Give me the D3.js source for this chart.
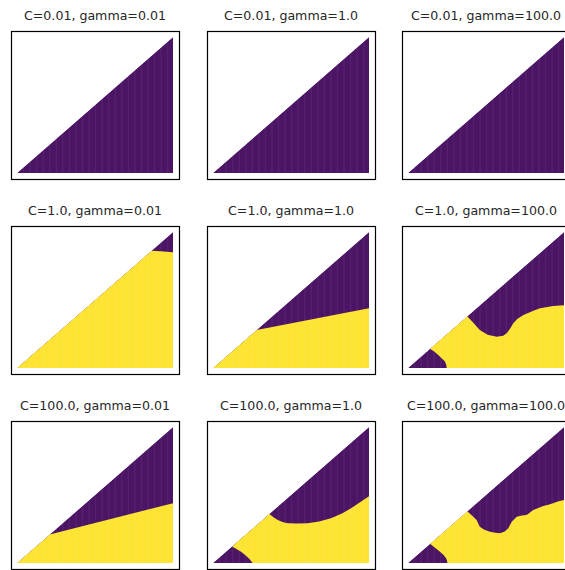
<!DOCTYPE html>
<html>
<head>
<meta charset="utf-8">
<script src="https://cdn.jsdelivr.net/npm/d3@7"></script>
<style>
  html, body { margin: 0; padding: 0; background: #fff; overflow: hidden; }
  svg { display: block; }
</style>
</head>
<body>
<div id="chart"></div>
<script>
// grid parameters (rows = C, columns = gamma)
const cLabels = ['0.01', '1.0', '100.0'];
const gammaLabels = ['0.01', '1.0', '100.0'];

// main decision boundary per panel, [x, y] in data units, from the diagonal to x = 1
// null means the whole triangle is one class (purple)
const boundaryRow1 = [null, null, null];
const boundaryRow2 = [
  [[0.863, 0.863], [0.92, 0.858], [1.0, 0.852]],
  [[0.28, 0.28], [1.0, 0.44]],
  [[0.38, 0.38], [0.42, 0.33], [0.46, 0.28], [0.51, 0.245], [0.569, 0.23], [0.61, 0.238],
   [0.633, 0.255], [0.655, 0.29], [0.675, 0.329], [0.70, 0.36], [0.74, 0.39], [0.80, 0.42],
   [0.846, 0.439], [0.93, 0.456], [1.0, 0.461]]
];
const boundaryRow3 = [
  [[0.21, 0.21], [1.0, 0.44]],
  [[0.361, 0.361], [0.39, 0.335], [0.415, 0.316], [0.45, 0.3], [0.479, 0.292], [0.54, 0.29],
   [0.607, 0.292], [0.68, 0.305], [0.756, 0.329], [0.83, 0.365], [0.885, 0.402], [0.94, 0.445],
   [1.0, 0.49]],
  [[0.38, 0.38], [0.41, 0.35], [0.44, 0.316], [0.46, 0.267], [0.49, 0.245], [0.526, 0.23],
   [0.56, 0.222], [0.59, 0.218], [0.62, 0.232], [0.643, 0.255], [0.665, 0.304], [0.697, 0.34],
   [0.73, 0.35], [0.76, 0.353], [0.78, 0.37], [0.803, 0.39], [0.835, 0.405], [0.867, 0.419],
   [0.90, 0.428], [0.93, 0.439], [0.96, 0.452], [1.0, 0.463]]
];
const boundaries = [boundaryRow1, boundaryRow2, boundaryRow3];

// small purple region in the lower-left corner, from the diagonal down to y = 0
const blobRow1 = [null, null, null];
const blobRow2 = [null, null,
  [[0.141, 0.141], [0.17, 0.12], [0.194, 0.096], [0.217, 0.07], [0.237, 0.047], [0.246, 0.02], [0.248, 0]]];
const blobRow3 = [null,
  [[0.122, 0.122], [0.15, 0.103], [0.18, 0.083], [0.21, 0.055], [0.235, 0.027], [0.254, 0]],
  [[0.141, 0.141], [0.175, 0.11], [0.205, 0.083], [0.228, 0.058], [0.244, 0.035], [0.251, 0.015], [0.252, 0]]];
const blobs = [blobRow1, blobRow2, blobRow3];

const purple = '#4b1465';
const yellow = '#fde433';

const width = 565, height = 570;
const panelW = 168, panelH = 148;
const colX = d3.scaleLinear().domain([0, 2]).range([11, 402]);
const rowY = d3.scaleLinear().domain([0, 2]).range([31, 421]);

const x = d3.scaleLinear().domain([0, 1]).range([6, 162]);
const y = d3.scaleLinear().domain([0, 1]).range([142, 6]);

const svg = d3.select('#chart').append('svg')
  .attr('width', width)
  .attr('height', height)
  .style('font-family', '"DejaVu Sans", sans-serif');

const line = d3.line().x(d => x(d[0])).y(d => y(d[1]));
const triangle = [[0, 0], [1, 0], [1, 1]];

cLabels.forEach((c, r) => {
  gammaLabels.forEach((g, k) => {
    const px = Math.round(colX(k)), py = Math.round(rowY(r));
    const panel = svg.append('g').attr('transform', `translate(${px},${py})`);
    const id = `clip-${r}-${k}`;

    panel.append('clipPath').attr('id', id)
      .append('path').attr('d', line(triangle) + 'Z');

    const body = panel.append('g').attr('clip-path', `url(#${id})`);
    body.append('path').attr('d', line(triangle) + 'Z').attr('fill', purple);

    const main = boundaries[r][k];
    if (main) {
      const blob = blobs[r][k];
      const pts = main.slice();
      pts.push([1, 0]);
      if (blob) {
        pts.push(...blob.slice().reverse());
      } else {
        pts.push([0, 0]);
      }
      body.append('path').attr('d', line(pts) + 'Z').attr('fill', yellow);
    }

    // faint vertical banding from the sampled grid
    body.selectAll('line.band')
      .data(d3.range(0, 1, 0.042))
      .join('line')
      .attr('class', 'band')
      .attr('x1', d => x(d)).attr('x2', d => x(d))
      .attr('y1', 0).attr('y2', panelH)
      .attr('stroke', '#fff')
      .attr('stroke-opacity', 0.05)
      .attr('stroke-width', 1.5);

    panel.append('rect')
      .attr('x', 0.5).attr('y', 0.5)
      .attr('width', panelW).attr('height', panelH)
      .attr('fill', 'none')
      .attr('stroke', '#000')
      .attr('stroke-width', 1.2);

    panel.append('text')
      .attr('x', panelW / 2)
      .attr('y', -11)
      .attr('text-anchor', 'middle')
      .attr('font-size', 12.6)
      .attr('fill', '#262626')
      .text(`C=${c}, gamma=${g}`);
  });
});
</script>
</body>
</html>
